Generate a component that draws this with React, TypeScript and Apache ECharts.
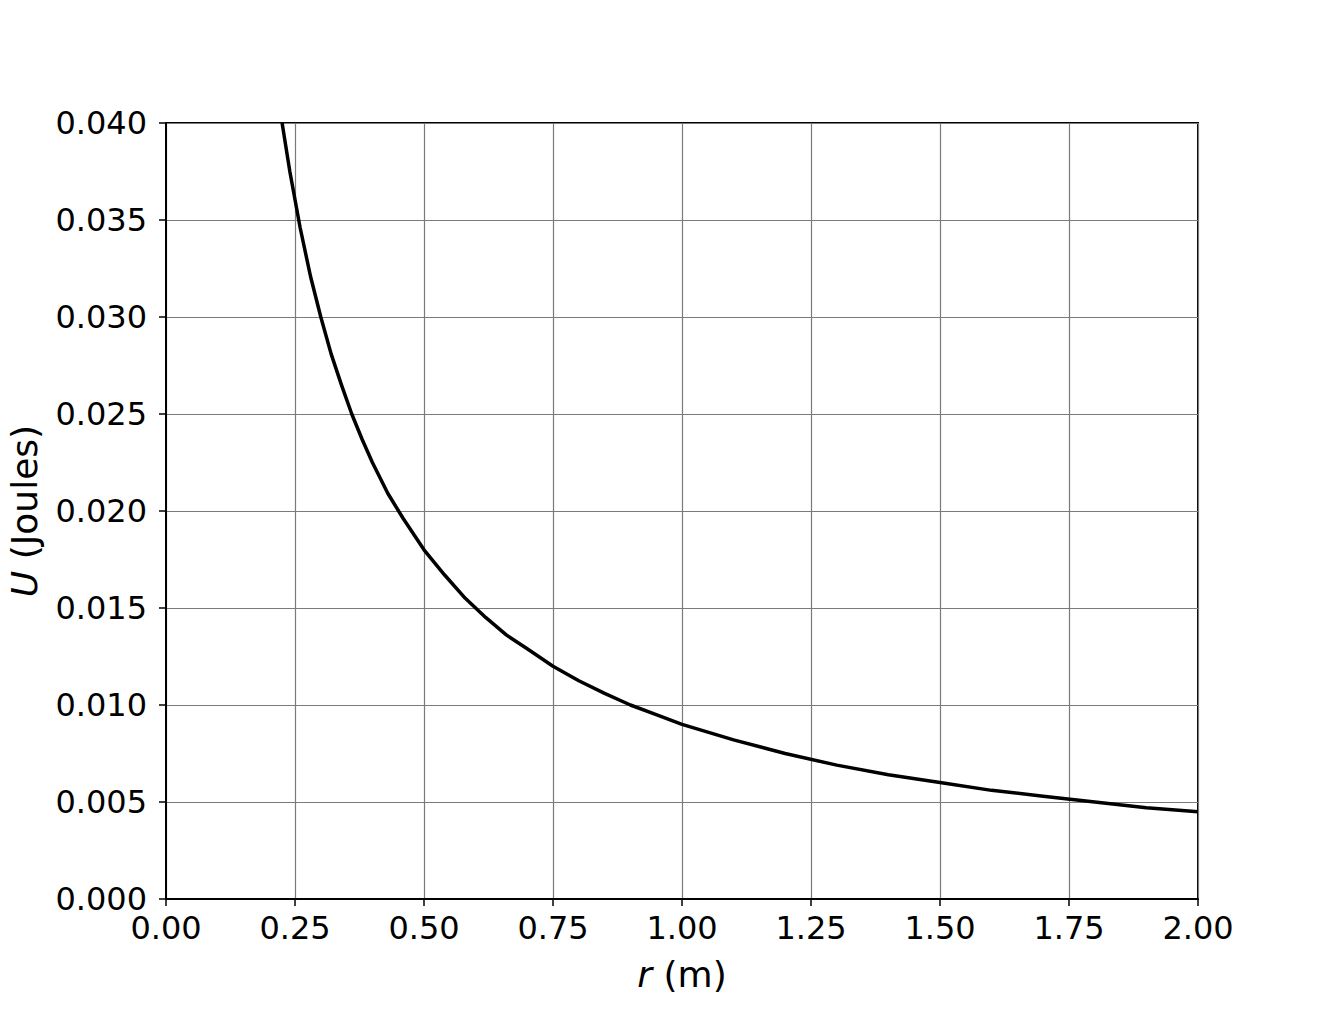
import React, { useEffect, useRef } from 'react';
import * as echarts from 'echarts';

// distance r (m) and potential energy U (J)
const rValues = [
  0.225, 0.24, 0.26, 0.28, 0.3, 0.32, 0.34, 0.36, 0.38, 0.4, 0.43, 0.46, 0.5, 0.54, 0.58, 0.62, 0.66, 0.7,
  0.75, 0.8, 0.85, 0.9, 0.95, 1.0, 1.1, 1.2, 1.3, 1.4, 1.5, 1.6, 1.7, 1.8, 1.9, 2.0,
];
const uValues = [
  0.04, 0.0375, 0.0346, 0.0321, 0.03, 0.0281, 0.0265, 0.025, 0.0237, 0.0225, 0.0209, 0.0196, 0.018, 0.0167,
  0.0155, 0.0145, 0.0136, 0.0129, 0.012, 0.01125, 0.0106, 0.01, 0.0095, 0.009, 0.0082, 0.0075, 0.0069, 0.0064,
  0.006, 0.0056, 0.0053, 0.005, 0.0047, 0.0045,
];

const xTicks = [0, 0.25, 0.5, 0.75, 1.0, 1.25, 1.5, 1.75, 2.0];
const yTicks = [0, 0.005, 0.01, 0.015, 0.02, 0.025, 0.03, 0.035, 0.04];

const FONT = '"DejaVu Sans", sans-serif';

const App: React.FC = () => {
  const chartRef = useRef<HTMLDivElement>(null);

  useEffect(() => {
    if (!chartRef.current) return;
    const chart = echarts.init(chartRef.current, null, { renderer: 'svg' });

    const nameStyle = {
      fontFamily: FONT,
      fontSize: 36,
      color: '#000',
      rich: { i: { fontStyle: 'italic' as const, fontFamily: FONT, fontSize: 36, color: '#000' } },
    };

    const option: echarts.EChartsOption = {
      animation: false,
      backgroundColor: '#ffffff',
      grid: {
        left: 166,
        right: 134,
        top: 123,
        bottom: 111,
        outerBoundsMode: 'none',
        containLabel: false,
        show: true,
        borderColor: '#000',
        borderWidth: 2,
      } as any,
      xAxis: {
        type: 'value',
        min: xTicks[0],
        max: xTicks[xTicks.length - 1],
        interval: 0.25,
        name: '{i|r} (m)',
        nameLocation: 'middle',
        nameGap: 57,
        nameTextStyle: nameStyle,
        axisLine: { lineStyle: { color: '#000', width: 2 } },
        axisTick: { show: true, inside: false, length: 7, lineStyle: { color: '#000', width: 1.5 } },
        axisLabel: {
          margin: 13,
          fontFamily: FONT,
          fontSize: 32,
          color: '#000',
          formatter: (v: number) => v.toFixed(2),
        },
        splitLine: { show: true, lineStyle: { color: '#7a7a7a', width: 1.2 } },
      },
      yAxis: {
        type: 'value',
        min: yTicks[0],
        max: yTicks[yTicks.length - 1],
        interval: 0.005,
        name: '{i|U} (Joules)',
        nameLocation: 'middle',
        nameGap: 124,
        nameRotate: 90,
        nameTextStyle: nameStyle,
        axisLine: { show: true, lineStyle: { color: '#000', width: 2 } },
        axisTick: { show: true, inside: false, length: 7, lineStyle: { color: '#000', width: 1.5 } },
        axisLabel: {
          margin: 19,
          fontFamily: FONT,
          fontSize: 32,
          color: '#000',
          formatter: (v: number) => v.toFixed(3),
        },
        splitLine: { show: true, lineStyle: { color: '#7a7a7a', width: 1.2 } },
      },
      series: [
        {
          type: 'line',
          data: rValues.map((r, i) => [r, uValues[i]]),
          smooth: false,
          showSymbol: false,
          clip: true,
          lineStyle: { color: '#000', width: 3.5, join: 'round' },
        },
      ],
    };

    chart.setOption(option);

    return () => {
      chart.dispose();
    };
  }, []);

  return (
    <div
      ref={chartRef}
      style={{ position: 'fixed', left: 0, top: 0, width: 1332, height: 1010 }}
    />
  );
};

export default App;
